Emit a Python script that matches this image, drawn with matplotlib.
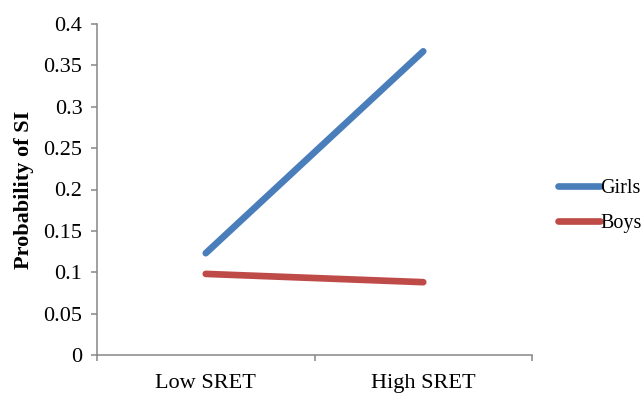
import numpy as np
import matplotlib
matplotlib.use("Agg")
import matplotlib.pyplot as plt
from matplotlib.ticker import FixedLocator

# Data
categories = ["Low SRET", "High SRET"]
girls = [0.123, 0.367]
boys = [0.098, 0.088]
yticks = [0, 0.05, 0.1, 0.15, 0.2, 0.25, 0.3, 0.35, 0.4]
ytick_labels = ["0", "0.05", "0.1", "0.15", "0.2", "0.25", "0.3", "0.35", "0.4"]

plt.rcParams['font.family'] = ['Liberation Serif', 'DejaVu Serif']
AXIS_GRAY = "#868686"

fig = plt.figure(figsize=(6.43, 3.93), dpi=100)
ax = fig.add_axes([97/643, 1 - 355/393, (532 - 97)/643, (355 - 24)/393])

x = np.arange(len(categories)) + 0.5
ax.plot(x, girls, color="#4A7EBB", linewidth=4.8, solid_capstyle='round', label="Girls")
ax.plot(x, boys, color="#BE4B48", linewidth=4.8, solid_capstyle='round', label="Boys")

ax.set_xlim(0, len(categories))
ax.set_ylim(0, 0.4)
ax.set_yticks(yticks)
ax.set_yticklabels(ytick_labels, fontsize=16)
ax.xaxis.set_major_locator(FixedLocator(np.arange(len(categories) + 1)))
ax.set_xticklabels([])
ax.xaxis.set_minor_locator(FixedLocator(x))
ax.set_xticklabels(categories, minor=True, fontsize=16)
ax.tick_params(axis='x', which='minor', length=0, pad=13.5)
ax.tick_params(axis='both', which='major', direction='out', length=4.5, width=1.1, color=AXIS_GRAY, pad=6)

for s in ['top', 'right']:
    ax.spines[s].set_visible(False)
for s in ['left', 'bottom']:
    ax.spines[s].set_color(AXIS_GRAY)
    ax.spines[s].set_linewidth(1.1)

ax.set_ylabel("Probability of SI", fontsize=16, fontweight='bold', labelpad=7)

fig.legend(loc='center left', bbox_to_anchor=(558/643, 1 - 206/393), frameon=False,
           fontsize=14.5, handlelength=2.1, handletextpad=0.0, labelspacing=0.75,
           borderaxespad=0, borderpad=0)

fig.savefig("out.png", dpi=100)
